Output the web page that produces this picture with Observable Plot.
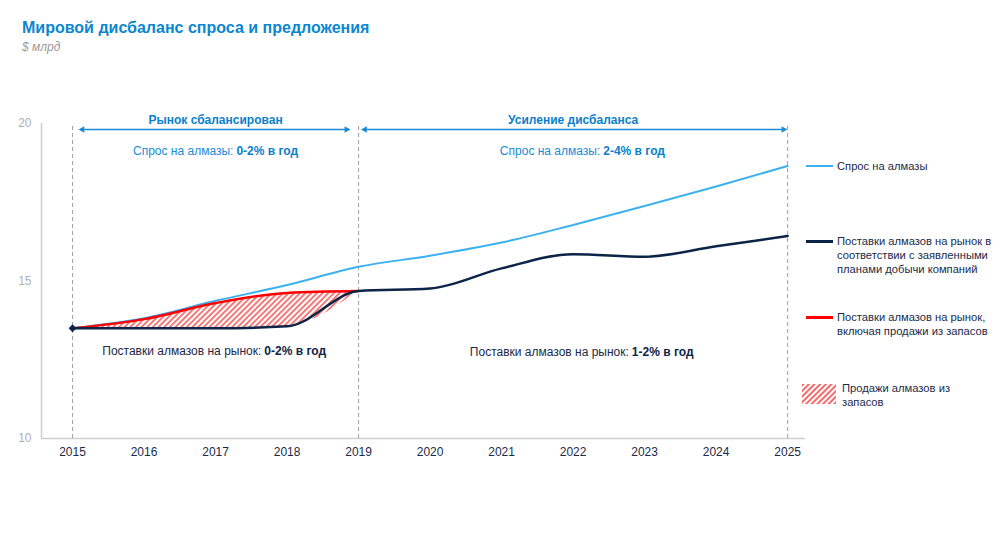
<!DOCTYPE html>
<html><head><meta charset="utf-8">
<script src="https://cdn.jsdelivr.net/npm/d3@7"></script>
<script src="https://cdn.jsdelivr.net/npm/@observablehq/plot@0.6"></script>
<style>
body{margin:0;background:#fff;font-family:"Liberation Sans",Arial,sans-serif;}
#wrap{position:relative;width:1000px;height:550px;overflow:hidden;background:#fff;}
#title{position:absolute;left:22px;top:19px;font-size:16px;font-weight:bold;color:#0b86d1;white-space:nowrap;}
#sub{position:absolute;left:22px;top:40px;font-size:12px;font-style:italic;color:#9a9a9a;}
#chart{position:absolute;left:0;top:60px;}
.lg{position:absolute;font-size:11.2px;color:#1b2a48;line-height:14px;white-space:nowrap;}
.sw{position:absolute;height:3px;width:27px;}
</style></head><body>
<div id="wrap">
<div id="title">Мировой дисбаланс спроса и предложения</div>
<div id="sub">$ млрд</div>
<div id="chart"></div>
<div id="legend"></div>
</div>
<script>
// ---- data ----
const years = [2015, 2016, 2017, 2018, 2019, 2020, 2021, 2022, 2023, 2024, 2025];
const demand = [13.5, 13.82, 14.37, 14.87, 15.45, 15.8, 16.22, 16.78, 17.38, 18.0, 18.65];
const supply = [13.5, 13.5, 13.5, 13.56, 14.68, 14.76, 15.4, 15.85, 15.77, 16.1, 16.43];
const stockYears = [2015, 2016, 2017, 2018, 2019];
const supplyWithStock = [13.5, 13.79, 14.3, 14.62, 14.68];
const yTicks = [10, 15, 20];
const dividers = [2015, 2019, 2025];
const phaseLabels = ["Рынок сбалансирован", "Усиление дисбаланса"];
const phaseStart = [2015.11, 2019.06];
const phaseEnd = [2018.86, 2024.97];
const phaseCenter = [2017, 2022];
const demandNoteText = ["Спрос на алмазы:", "Спрос на алмазы:"];
const demandNoteBold = ["0-2% в год", "2-4% в год"];
const demandNoteSplit = [2017.25, 2022.38];
const supplyNoteText = ["Поставки алмазов на рынок:", "Поставки алмазов на рынок:"];
const supplyNoteBold = ["0-2% в год", "1-2% в год"];
const supplyNoteSplit = [2017.64, 2022.78];
const supplyNoteY = [12.76, 12.73];
const legendLabels = [
  ["Спрос на алмазы"],
  ["Поставки алмазов на рынок в", "соответствии с заявленными", "планами добычи компаний"],
  ["Поставки алмазов на рынок,", "включая продажи из запасов"],
  ["Продажи алмазов из", "запасов"]
];

// ---- styles ----
const cDemand = "#3cb1ef", cSupply = "#0c2447", cRed = "#ff0000";
const cAnno = "#1a8bd6", cHead = "#0a7fcb";
const headY = 20.12, arrowY = 19.81, demandNoteY = 19.11;

const demandData = years.map((year, i) => ({year, value: demand[i]}));
const supplyData = years.map((year, i) => ({year, value: supply[i]}));
const stockData = stockYears.map((year, i) => ({year, value: supplyWithStock[i], base: supply[i]}));
const phases = phaseLabels.map((label, i) => ({label, x1: phaseStart[i], x2: phaseEnd[i], xc: phaseCenter[i]}));
const dNotes = demandNoteText.map((t, i) => ({t, b: demandNoteBold[i], x: demandNoteSplit[i]}));
const sNotes = supplyNoteText.map((t, i) => ({t, b: supplyNoteBold[i], x: supplyNoteSplit[i], y: supplyNoteY[i]}));

const xDomain = [2014.566, 2025.25];
const curve = "monotone-x";

const plot = Plot.plot({
  width: 1000, height: 440,
  marginLeft: 41, marginRight: 195, marginTop: 63, marginBottom: 62,
  style: {fontFamily: "Liberation Sans, Arial, sans-serif", fontSize: "12px", background: "transparent"},
  x: {domain: xDomain},
  y: {domain: [10, 20]},
  marks: [
    Plot.ruleY([10], {stroke: "#cfcfcf", strokeWidth: 1.5}),
    Plot.ruleX([xDomain[0]], {y1: 10, y2: 20, stroke: "#cfcfcf", strokeWidth: 1.5}),
    Plot.ruleX(dividers, {y1: 10, y2: 20, stroke: "#a0a0a0", strokeDasharray: "4,3"}),
    Plot.axisX({ticks: years, tickFormat: d => String(d), tickSize: 0, tickPadding: 9, color: "#1b2a48", label: null, fontSize: 12}),
    Plot.axisY({ticks: yTicks, tickSize: 0, tickPadding: 10, color: "#b0b0b0", label: null, fontSize: 12}),
    Plot.areaY(stockData, {x: "year", y1: "base", y2: "value", fill: "url(#hatch)", curve}),
    Plot.line(demandData, {x: "year", y: "value", stroke: cDemand, strokeWidth: 2, curve}),
    Plot.line(stockData, {x: "year", y: "value", stroke: cRed, strokeWidth: 2.5, curve}),
    Plot.line(supplyData, {x: "year", y: "value", stroke: cSupply, strokeWidth: 2.5, curve}),
    Plot.dot(supplyData.slice(0, 1), {x: "year", y: "value", symbol: "diamond2", r: 3.5, fill: cSupply}),
    Plot.link(phases, {x1: "x1", x2: "x2", y1: () => arrowY, y2: () => arrowY, stroke: cAnno, strokeWidth: 1.3}),
    Plot.dot(phases, {x: "x1", y: () => arrowY, symbol: "triangle2", r: 3.2, rotate: -90, dx: 2, fill: cAnno}),
    Plot.dot(phases, {x: "x2", y: () => arrowY, symbol: "triangle2", r: 3.2, rotate: 90, dx: -2, fill: cAnno}),
    Plot.text(phases, {x: "xc", y: () => headY, text: "label", fontWeight: "bold", fill: cHead, fontSize: 12}),
    Plot.text(dNotes, {x: "x", y: () => demandNoteY, text: "t", textAnchor: "end", fill: cAnno, fontSize: 12}),
    Plot.text(dNotes, {x: "x", y: () => demandNoteY, text: "b", textAnchor: "start", dx: 3, fontWeight: "bold", fill: cHead, fontSize: 12}),
    Plot.text(sNotes, {x: "x", y: "y", text: "t", textAnchor: "end", fill: "#1b2a48", fontSize: 12}),
    Plot.text(sNotes, {x: "x", y: "y", text: "b", textAnchor: "start", dx: 3, fontWeight: "bold", fill: "#0c2447", fontSize: 12})
  ]
});

const ns = "http://www.w3.org/2000/svg";
const defs = document.createElementNS(ns, "defs");
defs.innerHTML = '<pattern id="hatch" patternUnits="userSpaceOnUse" width="4" height="4" patternTransform="rotate(45)"><rect width="4" height="4" fill="#ffffff"/><rect width="1.8" height="4" fill="#f56b6b"/></pattern>';
plot.insertBefore(defs, plot.firstChild);
document.getElementById("chart").appendChild(plot);

// ---- legend ----
const legend = document.getElementById("legend");
const lgPos = [{y: 166}, {y: 241}, {y: 317}, {y: 388}];
const lgColors = [cDemand, cSupply, cRed];
legendLabels.forEach((lines, i) => {
  const y = lgPos[i].y;
  if (i < 3) {
    const sw = document.createElement("div");
    sw.className = "sw";
    sw.style.cssText = `left:806px;top:${y - 1.5}px;background:${lgColors[i]};height:${i === 0 ? 2 : 3}px;`;
    legend.appendChild(sw);
  } else {
    const s = document.createElementNS(ns, "svg");
    s.setAttribute("width", 34); s.setAttribute("height", 20);
    s.style.cssText = "position:absolute;left:802px;top:384px;";
    s.innerHTML = '<defs><pattern id="hatch2" patternUnits="userSpaceOnUse" width="4" height="4" patternTransform="rotate(45)"><rect width="4" height="4" fill="#ffffff"/><rect width="2" height="4" fill="#f56b6b"/></pattern></defs><rect width="34" height="20" fill="url(#hatch2)"/>';
    legend.appendChild(s);
  }
  const t = document.createElement("div");
  t.className = "lg";
  t.style.left = (i < 3 ? 837 : 842) + "px";
  t.style.top = (y - 7) + "px";
  t.innerHTML = lines.join("<br>");
  legend.appendChild(t);
});
</script>
</body></html>
